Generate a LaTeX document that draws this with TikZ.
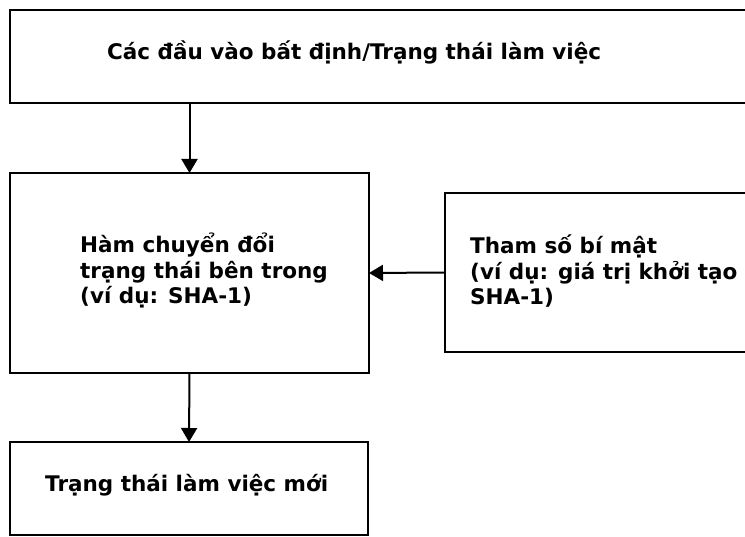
\documentclass[tikz,border=0pt]{standalone}
\usepackage{fontspec}
\setmainfont{DejaVu Sans}
\usetikzlibrary{arrows.meta}
\tikzset{
  box/.style={draw, line width=2pt, inner sep=0pt, outer sep=0pt},
  lbl/.style={anchor=base west, inner sep=0pt, align=left,
    font=\bfseries\fontsize{21.5}{25.5}\selectfont},
  arr/.style={line width=2pt, -{Triangle[width=16pt,length=14pt]}}
}
\begin{document}
\begin{tikzpicture}[x=1pt, y=-1pt]
  \useasboundingbox (0,0) rectangle (745,537);
  % boxes
  \node[box, minimum width=750pt, minimum height=93pt] (top) at (385,56.5) {};
  \node[box, minimum width=359pt, minimum height=200pt] (mid) at (189.5,273) {};
  \node[box, minimum width=315pt, minimum height=159pt] (key) at (602.5,272.5) {};
  \node[box, minimum width=358pt, minimum height=93pt] (out) at (189,488.5) {};
  % texts (multi-line labels sit on the baseline of their last line)
  \node[lbl] (toptxt) at (107,60) {Các đầu vào bất định/Trạng thái làm việc};
  \node[lbl] (midtxt) at (80,304) {Hàm chuyển đổi\\trạng thái bên trong\\(ví dụ: SHA-1)};
  \node[lbl] (keytxt) at (470,305) {Tham số bí mật\\(ví dụ: giá trị khởi tạo\\SHA-1)};
  \node[lbl] (outtxt) at (45,492) {Trạng thái làm việc mới};
  % connectors
  \draw[arr] (top.south -| mid.north) -- (mid.north);
  \draw[arr] (key.west) -- (mid.east);
  \draw[arr] (mid.south) -- (out.north);
\end{tikzpicture}
\end{document}
